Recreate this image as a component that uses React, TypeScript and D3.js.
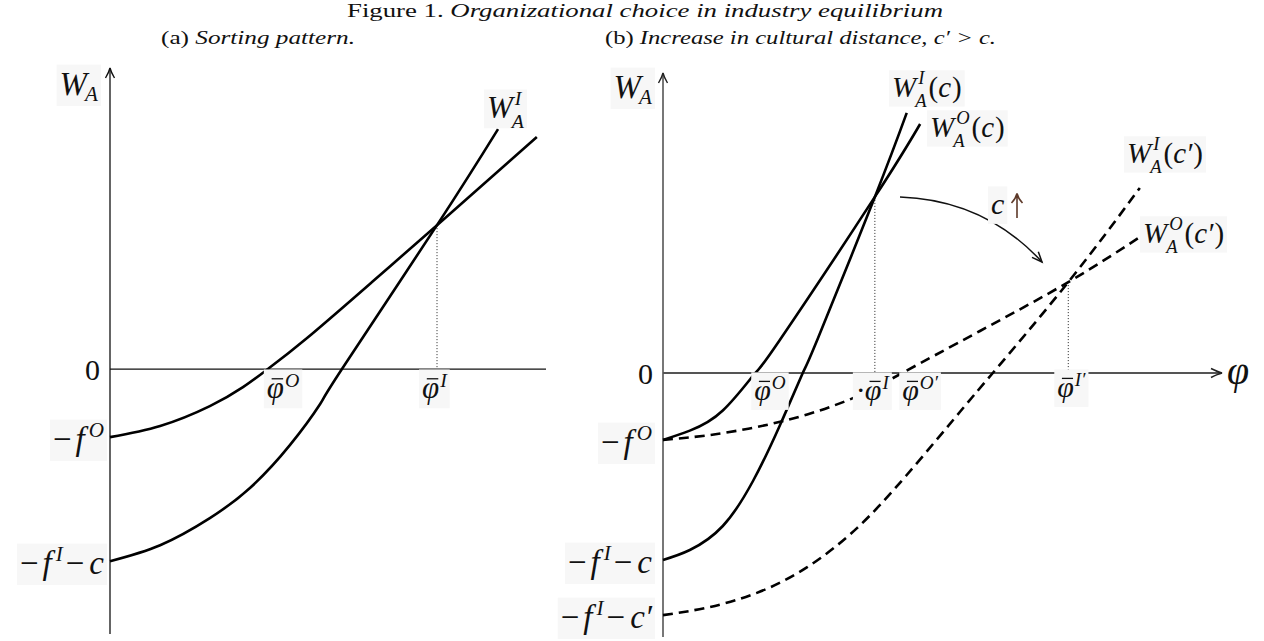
import React from 'react';
import * as d3 from 'd3';

// ---------- data (panel a) ----------
const leftWO: [number, number][] = [[0, -2.26], [1.15, -1.89], [2.29, -1.23], [3.05, -0.6], [3.62, 0], [4.52, 1.03], [6.01, 2.89], [7.5, 4.78], [9.79, 7.71]];
const leftWI: [number, number][] = [[0, -6.38], [1.15, -5.85], [2.29, -4.95], [3.21, -3.95], [4.13, -2.52], [4.82, -1.16], [5.32, 0], [7.5, 4.78], [8.9, 7.97]];
const leftPhiO = 3.62;
const leftPhiI = 7.5;
const leftCross = 4.78;

// ---------- data (panel b) ----------
const rightWOc: [number, number][] = [[0, -2.23], [0.48, -1.92], [1.07, -1.25], [1.65, 0], [2.09, 1.1], [3.79, 5.87], [4.6, 8.3]];
const rightWIc: [number, number][] = [[0, -6.23], [0.48, -5.9], [1.07, -5.1], [1.61, -3.6], [2.09, -1.75], [2.5, 0], [2.77, 1.15], [3.79, 5.87], [4.36, 8.67]];
const rightWOc2: [number, number][] = [[0, -2.23], [0.79, -2.08], [1.68, -1.8], [2.58, -1.38], [3.47, -0.78], [4.28, 0], [5.67, 1.4], [7.25, 3.03], [8.53, 4.53]];
const rightWIc2: [number, number][] = [[0, -8.07], [0.79, -7.82], [1.68, -7.33], [2.58, -6.47], [3.47, -5.17], [4.36, -3.4], [5.31, -1.3], [5.9, 0], [7.25, 3.03], [8.53, 6.17]];
const rightPhiO = 1.65;
const rightPhiI = 3.79;
const rightCross = 5.87;
const rightPhiO2 = 4.28;
const rightPhiI2 = 7.25;
const rightCross2 = 3.03;
const shiftArrow: [number, number][] = [[4.24, 5.87], [5.76, 5.77], [6.78, 3.7]];

const titleText = ['Figure 1. ', 'Organizational choice in industry equilibrium'];
const subA = ['(a) ', 'Sorting pattern.'];
const subB = ['(b) ', 'Increase in cultural distance, ', 'c′ > c.'];

// ---------- scales ----------
const xL = d3.scaleLinear().domain([0, 10]).range([110, 546]);
const yL = d3.scaleLinear().domain([-8.8, 10]).range([634, 68]);
const xR = d3.scaleLinear().domain([0, 10]).range([663, 1222]);
const yR = d3.scaleLinear().domain([-8.8, 10]).range([637, 73]);

const FONT = "'Liberation Serif', 'Times New Roman', serif";

let ctx: CanvasRenderingContext2D | null = null;
function measure(t: string, size: number, it: boolean) {
  if (!ctx) ctx = document.createElement('canvas').getContext('2d');
  if (!ctx) return t.length * size * 0.5;
  ctx.font = `${it ? 'italic ' : ''}${size}px ${FONT}`;
  return ctx.measureText(t).width;
}

type Seg = { t: string; it?: boolean; lvl?: number; stack?: boolean; bar?: boolean; dx?: number; off?: number };

function MathText({ x, y, size, segs, anchor = 'start', bg = true, color = '#111' }:
  { x: number; y: number; size: number; segs: Seg[]; anchor?: string; bg?: boolean; color?: string }) {
  let cur = 0;
  let prevStart = 0;
  let prevEnd = 0;
  const items: any[] = [];
  segs.forEach((s) => {
    const lvl = s.lvl || 0;
    const fs = lvl === 0 ? size : size * 0.64;
    const it = s.it !== false;
    const w = measure(s.t, fs, it);
    let sx = s.stack ? prevStart : cur;
    sx += s.dx || 0;
    const dy = s.off !== undefined ? s.off * size : lvl === 1 ? -0.36 * size : lvl === -1 ? 0.3 * size : 0;
    items.push({ ...s, sx, w, fs, dy, it });
    prevStart = sx;
    const end = sx + w;
    if (s.stack) cur = Math.max(prevEnd, end);
    else cur = end;
    prevEnd = cur;
  });
  const total = cur;
  const x0 = anchor === 'end' ? x - total : anchor === 'middle' ? x - total / 2 : x;
  return (
    <g>
      {bg && <rect x={x0 - 3} y={y - size * 0.92} width={total + 6} height={size * 1.25} fill="#f7f7f7" />}
      <text style={{ fontFamily: FONT }} fill={color}>
        {items.map((s, i) => (
          <tspan key={i} x={x0 + s.sx} y={y + s.dy} fontSize={s.fs} fontStyle={s.it ? 'italic' : 'normal'}>{s.t}</tspan>
        ))}
      </text>
      {items.filter((s) => s.bar).map((s, i) => (
        <line key={'b' + i} x1={x0 + s.sx + s.w * 0.28} x2={x0 + s.sx + s.w * 0.95} y1={y - s.fs * 0.62} y2={y - s.fs * 0.62}
          stroke={color} strokeWidth={1.3} />
      ))}
    </g>
  );
}

const lineGen = (xs: any, ys: any) =>
  d3.line<[number, number]>().x((d) => xs(d[0])).y((d) => ys(d[1])).curve(d3.curveNatural);

function upArrowHead(x: number, y: number, color: string) {
  return <path d={`M${x - 4.5},${y + 10} Q${x - 1},${y + 4} ${x},${y} Q${x + 1},${y + 4} ${x + 4.5},${y + 10}`}
    fill="none" stroke={color} strokeWidth={1.4} />;
}

export default function App() {
  const lL = lineGen(xL, yL);
  const lR = lineGen(xR, yR);

  // curved arrow
  const [p0, pc, p2] = shiftArrow;
  const ap = d3.path();
  ap.moveTo(xR(p0[0]), yR(p0[1]));
  ap.quadraticCurveTo(xR(pc[0]), yR(pc[1]), xR(p2[0]), yR(p2[1]));
  const ang = Math.atan2(yR(p2[1]) - yR(pc[1]), xR(p2[0]) - xR(pc[0]));
  const ex = xR(p2[0]), ey = yR(p2[1]);
  const hl = 11, ha = 0.4;
  const head = `M${ex - hl * Math.cos(ang - ha)},${ey - hl * Math.sin(ang - ha)} L${ex},${ey} L${ex - hl * Math.cos(ang + ha)},${ey - hl * Math.sin(ang + ha)}`;

  const curveW = 2.6;
  const dash = '10,6';
  const axisL = '#111';
  const axisR = '#555';

  const fO: Seg[] = [{ t: '−', it: false }, { t: 'f', dx: 4 }, { t: 'O', lvl: 1, dx: 4, off: -0.4 }];
  const fIc: Seg[] = [{ t: '−', it: false }, { t: 'f', dx: 4 }, { t: 'I', lvl: 1, dx: 4, off: -0.4 }, { t: '−', it: false, dx: 3 }, { t: 'c', dx: 5 }];
  const fIc2: Seg[] = [{ t: '−', it: false }, { t: 'f', dx: 4 }, { t: 'I', lvl: 1, dx: 4, off: -0.4 }, { t: '−', it: false, dx: 3 }, { t: 'c′', dx: 5 }];
  const WA: Seg[] = [{ t: 'W' }, { t: 'A', lvl: -1, dx: -2, off: 0.17 }];
  const curveLab = (sup: string, arg: string): Seg[] => [
    { t: 'W' }, { t: sup, lvl: 1, dx: 2, off: -0.44 }, { t: 'A', lvl: -1, stack: true, dx: -3, off: 0.33 },
    { t: '(', it: false, dx: 2 }, { t: arg }, { t: ')', it: false, dx: 1 },
  ];

  return (
    <svg width={1264} height={641} style={{ position: 'absolute', left: 0, top: 0, background: '#fff' }}>
      <rect width={1264} height={641} fill="#fff" />
      {/* titles */}
      <text x={645} y={17} textAnchor="middle" fontSize={19} style={{ fontFamily: FONT }} fill="#111" textLength={596} lengthAdjust="spacingAndGlyphs">
        <tspan>{titleText[0]}</tspan><tspan fontStyle="italic">{titleText[1]}</tspan>
      </text>
      <text x={161} y={44} fontSize={19} style={{ fontFamily: FONT }} fill="#111" textLength={194} lengthAdjust="spacingAndGlyphs">
        <tspan>{subA[0]}</tspan><tspan fontStyle="italic">{subA[1]}</tspan>
      </text>
      <text x={605} y={44} fontSize={19} style={{ fontFamily: FONT }} fill="#111" textLength={391} lengthAdjust="spacingAndGlyphs">
        <tspan>{subB[0]}</tspan><tspan fontStyle="italic">{subB[1]}</tspan><tspan fontStyle="italic">{subB[2]}</tspan>
      </text>

      {/* ===== Panel (a) ===== */}
      <line x1={xL(0)} x2={xL(0)} y1={yL(-8.8)} y2={yL(10)} stroke={axisL} strokeWidth={1.3} />
      {upArrowHead(xL(0), yL(10), axisL)}
      <line x1={xL(0)} x2={xL(10)} y1={yL(0)} y2={yL(0)} stroke={axisL} strokeWidth={1.3} />
      <line x1={xL(leftPhiI)} x2={xL(leftPhiI)} y1={yL(leftCross)} y2={yL(0)} stroke="#222" strokeWidth={1} strokeDasharray="1,2" />
      <path d={lL(leftWO) || ''} fill="none" stroke="#000" strokeWidth={curveW} />
      <path d={lL(leftWI) || ''} fill="none" stroke="#000" strokeWidth={curveW} />

      <MathText x={98} y={95} size={33} anchor="end" segs={WA} />
      <MathText x={487} y={118} size={31} segs={[{ t: 'W' }, { t: 'I', lvl: 1, dx: 2, off: -0.42 }, { t: 'A', lvl: -1, stack: true, dx: -3, off: 0.32 }]} />
      <MathText x={100} y={380} size={30} anchor="end" bg={false} segs={[{ t: '0', it: false }]} />
      <MathText x={104} y={450} size={33} anchor="end" segs={fO} />
      <MathText x={104} y={574} size={33} anchor="end" segs={fIc} />
      <MathText x={xL(leftPhiO) - 1} y={398} size={31} segs={[{ t: 'φ', bar: true }, { t: 'O', lvl: 1, dx: 1 }]} />
      <MathText x={xL(leftPhiI) - 15} y={398} size={31} segs={[{ t: 'φ', bar: true }, { t: 'I', lvl: 1, dx: 1 }]} />

      {/* ===== Panel (b) ===== */}
      <line x1={xR(0)} x2={xR(0)} y1={yR(-8.8)} y2={yR(10)} stroke={axisR} strokeWidth={1.6} />
      {upArrowHead(xR(0), yR(10), '#222')}
      <line x1={xR(0)} x2={xR(10)} y1={yR(0)} y2={yR(0)} stroke={axisR} strokeWidth={1.8} />
      <path d={`M${xR(10) - 11},${yR(0) - 4.5} Q${xR(10) - 4},${yR(0) - 1} ${xR(10)},${yR(0)} Q${xR(10) - 4},${yR(0) + 1} ${xR(10) - 11},${yR(0) + 4.5}`}
        fill="none" stroke="#222" strokeWidth={1.6} />
      <line x1={xR(rightPhiI)} x2={xR(rightPhiI)} y1={yR(rightCross)} y2={yR(0)} stroke="#222" strokeWidth={1} strokeDasharray="1,2" />
      <line x1={xR(rightPhiI2)} x2={xR(rightPhiI2)} y1={yR(rightCross2)} y2={yR(0)} stroke="#222" strokeWidth={1} strokeDasharray="1,2" />

      <path d={lR(rightWOc2) || ''} fill="none" stroke="#000" strokeWidth={curveW} strokeDasharray={dash} />
      <path d={lR(rightWIc2) || ''} fill="none" stroke="#000" strokeWidth={curveW} strokeDasharray={dash} />
      <path d={lR(rightWOc) || ''} fill="none" stroke="#000" strokeWidth={curveW} />
      <path d={lR(rightWIc) || ''} fill="none" stroke="#000" strokeWidth={curveW} />

      <path d={ap.toString()} fill="none" stroke="#111" strokeWidth={1.5} />
      <path d={head} fill="none" stroke="#111" strokeWidth={1.5} />

      <MathText x={652} y={98} size={33} anchor="end" segs={WA} />
      <MathText x={653} y={384} size={30} anchor="end" bg={false} segs={[{ t: '0', it: false }]} />
      <MathText x={652} y={453} size={33} anchor="end" segs={fO} />
      <MathText x={652} y={573} size={33} anchor="end" segs={fIc} />
      <MathText x={652} y={628} size={33} anchor="end" segs={fIc2} />

      <MathText x={xR(rightPhiO) - 1} y={400} size={30} segs={[{ t: 'φ', bar: true }, { t: 'O', lvl: 1, dx: 1 }]} />
      <MathText x={xR(rightPhiI) - 19} y={400} size={30} segs={[{ t: '·', it: false }, { t: 'φ', bar: true, dx: -1 }, { t: 'I', lvl: 1, dx: 1 }]} />
      <MathText x={xR(rightPhiO2)} y={400} size={30} segs={[{ t: 'φ', bar: true }, { t: 'O′', lvl: 1, dx: 1 }]} />
      <MathText x={xR(rightPhiI2) - 11} y={397} size={30} segs={[{ t: 'φ', bar: true }, { t: 'I′', lvl: 1, dx: 1 }]} />
      <MathText x={xR(10) + 5} y={384} size={40} bg={false} segs={[{ t: 'φ' }]} />

      <MathText x={892} y={97} size={29} segs={curveLab('I', 'c')} />
      <MathText x={930} y={137} size={29} segs={curveLab('O', 'c')} />
      <MathText x={1127} y={163} size={29} segs={curveLab('I', 'c′')} />
      <MathText x={1143} y={243} size={29} segs={curveLab('O', 'c′')} />

      <MathText x={991} y={214} size={30} segs={[{ t: 'c' }]} />
      <path d="M1017,218 L1017,194 M1011.5,203 Q1016,198 1017,193.5 Q1018,198 1022.5,203" fill="none" stroke="#5e3a2a" strokeWidth={1.6} />
    </svg>
  );
}
